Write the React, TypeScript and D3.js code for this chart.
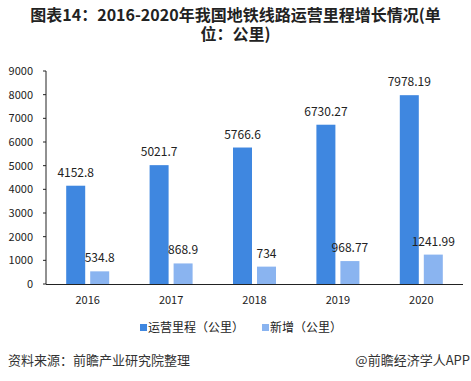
import React from "react";
import * as d3 from "d3";

const years = ["2016", "2017", "2018", "2019", "2020"];
const operating = [4152.8, 5021.7, 5766.6, 6730.27, 7978.19];
const added = [534.8, 868.9, 734, 968.77, 1241.99];
const yTicks = [0, 1000, 2000, 3000, 4000, 5000, 6000, 7000, 8000, 9000];
const seriesNames = ["运营里程（公里）", "新增（公里）"];
const titleLines = ["图表14：2016-2020年我国地铁线路运营里程增长情况(单", "位：公里)"];
const sourceText = "资料来源：前瞻产业研究院整理";
const brandText = "@前瞻经济学人APP";

const W = 471, H = 381;
const left = 46, right = 463, top = 71, bottom = 284;
const colors = ["#3F87E0", "#8AB4F0"];
const font = "'Noto Sans CJK SC', 'Noto Sans', sans-serif";

export default function App() {
  const x = d3.scaleBand().domain(years).range([left, right]).paddingInner(0).paddingOuter(0);
  const y = d3.scaleLinear().domain([0, 9000]).range([bottom, top]);
  const barW = 19, gap = 5;
  const series = [operating, added];
  const fmt = (v: number) => String(v);
  return (
    <svg width={W} height={H} style={{ position: "absolute", left: 0, top: 0, background: "#fff" }} fontFamily={font}>
      <rect width={W} height={H} fill="#fff" />
      {titleLines.map((t, i) => (
        <text key={i} x={W / 2} y={21 + i * 19} textAnchor="middle" fontSize={16} fontWeight="bold" fill="#222">{t}</text>
      ))}
      {yTicks.map((t) => (
        <g key={t}>
          <text x={33} y={y(t)} dy="0.35em" textAnchor="end" fontSize={11} fill="#222">{t}</text>
          <line x1={left - 3} x2={left} y1={y(t)} y2={y(t)} stroke="#222" strokeWidth={1} />
        </g>
      ))}
      <line x1={left} x2={left} y1={top} y2={bottom} stroke="#222" strokeWidth={1} />
      <line x1={left} x2={right} y1={bottom + 0.5} y2={bottom + 0.5} stroke="#222" strokeWidth={1} />
      {years.map((yr, i) => {
        const cx = (x(yr) as number) + x.bandwidth() / 2;
        return (
          <g key={yr}>
            {series.map((s, k) => {
              const bx = k === 0 ? cx - gap / 2 - barW : cx + gap / 2;
              return (
                <g key={k}>
                  <rect x={bx} y={y(s[i])} width={barW} height={bottom - y(s[i])} fill={colors[k]} />
                  <text x={bx + barW / 2} y={y(s[i]) - 9} textAnchor="middle" fontSize={12} fill="#222">{fmt(s[i])}</text>
                </g>
              );
            })}
            <text x={cx} y={304} textAnchor="middle" fontSize={11} fill="#222">{yr}</text>
          </g>
        );
      })}
      <g>
        <rect x={140} y={324} width={7} height={7} fill={colors[0]} />
        <text x={148} y={332} fontSize={12} fill="#222">{seriesNames[0]}</text>
        <rect x={262} y={324} width={7} height={7} fill={colors[1]} />
        <text x={270} y={332} fontSize={12} fill="#222">{seriesNames[1]}</text>
      </g>
      <text x={8} y={365} fontSize={13} fill="#333">{sourceText}</text>
      <text x={470} y={365} textAnchor="end" fontSize={13} fill="#333">{brandText}</text>
    </svg>
  );
}
